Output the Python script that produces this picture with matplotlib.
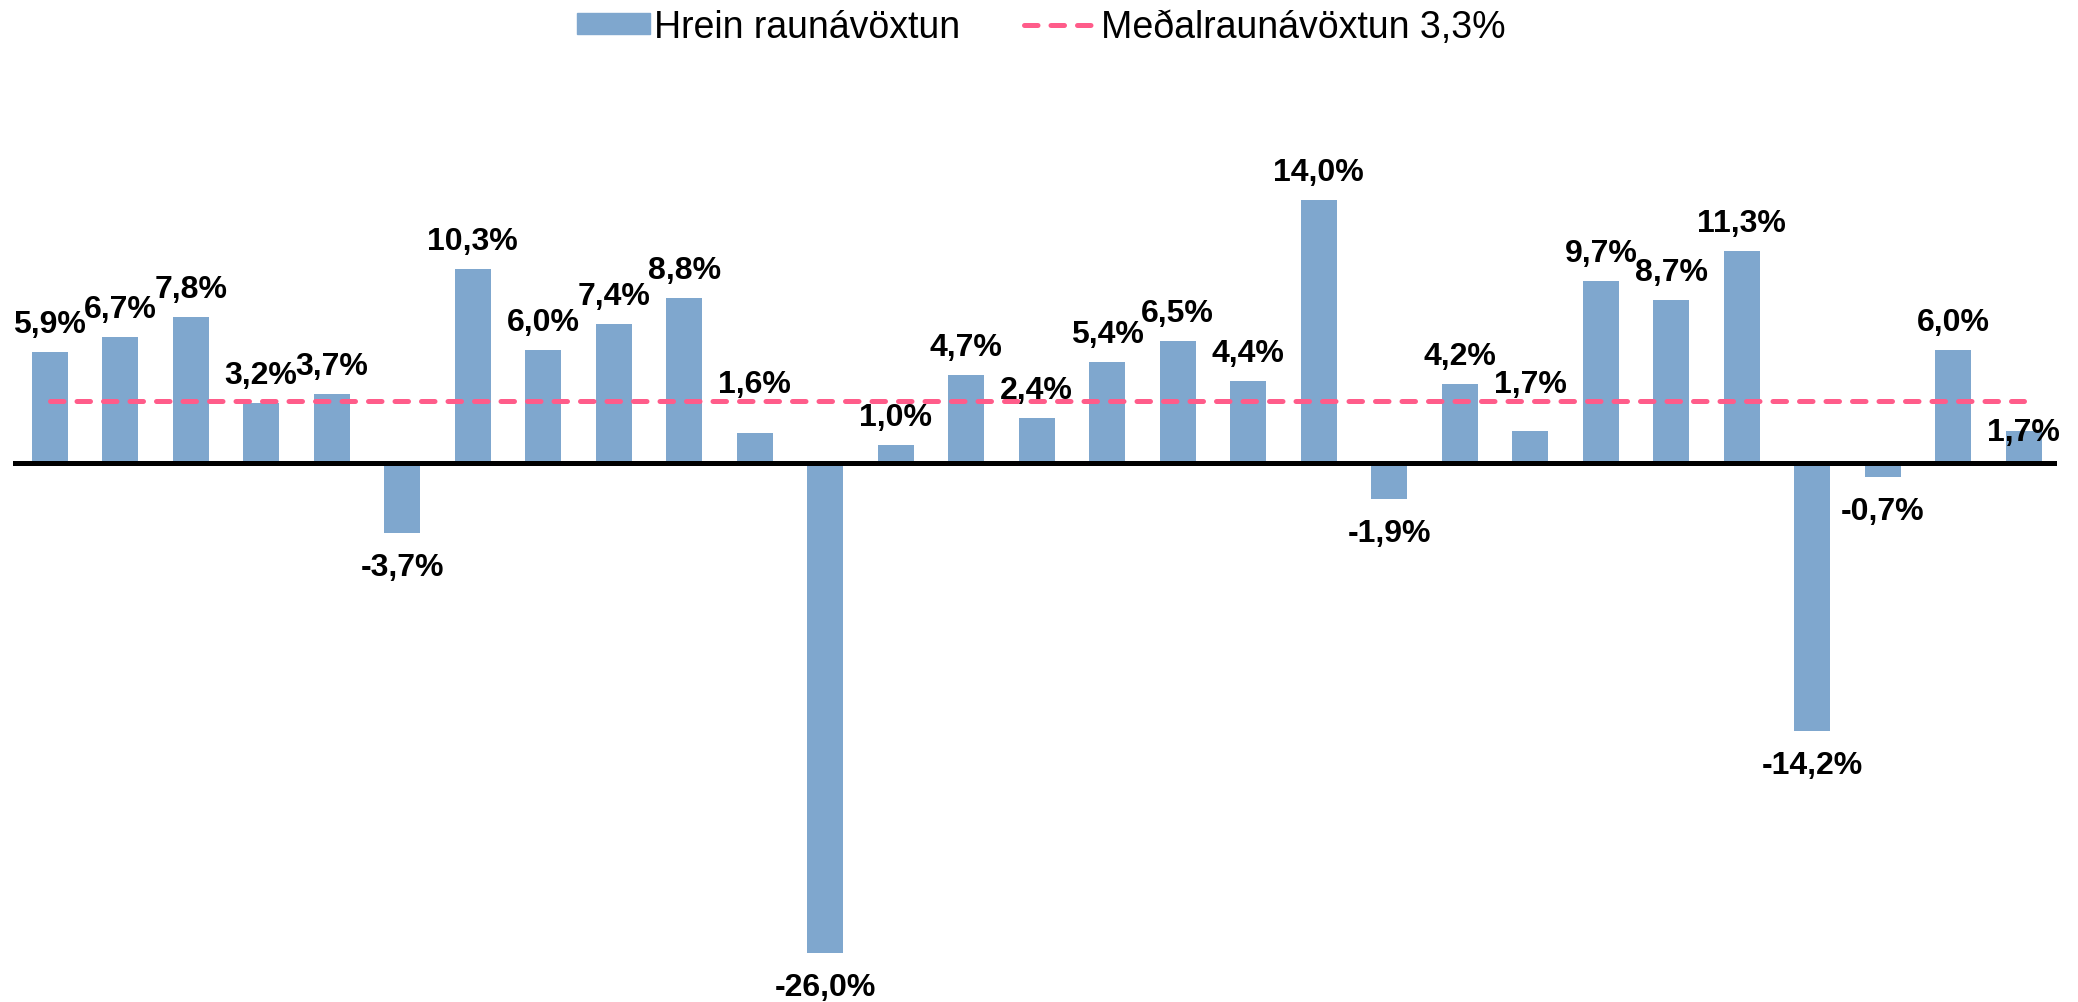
import numpy as np
import matplotlib.pyplot as plt
from matplotlib.lines import Line2D
from matplotlib.patches import Patch

plt.rcParams['font.family'] = ['Liberation Sans', 'DejaVu Sans']

# Hrein raunávöxtun (%) - eitt gildi á hvert ár
raunavoxtun = [5.9, 6.7, 7.8, 3.2, 3.7, -3.7, 10.3, 6.0, 7.4, 8.8, 1.6, -26.0,
               1.0, 4.7, 2.4, 5.4, 6.5, 4.4, 14.0, -1.9, 4.2, 1.7, 9.7, 8.7,
               11.3, -14.2, -0.7, 6.0, 1.7]
medaltal = 3.3

bar_litur = '#7fa7ce'
lina_litur = '#ff5c8a'

fig = plt.figure(figsize=(20.78, 10.03), dpi=100)
ax = fig.add_axes([13/2078, 0.013, (2057-13)/2078, 0.907])

x = np.arange(len(raunavoxtun))
ax.bar(x, raunavoxtun, width=0.51, color=bar_litur, zorder=2)
ax.plot([x[0], x[-1]], [medaltal, medaltal], color=lina_litur, lw=3.6,
        dashes=(2.7, 2.6), dash_capstyle='round', zorder=3)
ax.axhline(0, color='black', lw=3.6, zorder=4)

# sumir merkimiðar voru færðir til í upprunalegu myndinni
hlidrun = {10: 21, 21: 19, 28: -29}

for i, v in enumerate(raunavoxtun):
    txt = f"{v:.1f}%".replace('.', ',')
    if v >= 0:
        dy = 28 + hlidrun.get(i, 0)
    else:
        dy = -34
    ax.annotate(txt, (x[i], v), xytext=(0, dy), textcoords='offset pixels',
                ha='center', va='center', fontsize=23, fontweight='bold',
                zorder=5)

ax.set_xlim(-0.52, 28.47)
ax.set_ylim(-27.9, 20.4)
ax.axis('off')

handles = [Patch(color=bar_litur),
           Line2D([0], [0], color=lina_litur, lw=3.6, dashes=(2.7, 2.6),
                  dash_capstyle='round')]
fig.legend(handles, ['Hrein raunávöxtun', 'Meðalraunávöxtun 3,3%'],
           loc='center', bbox_to_anchor=(0.501, 0.972), ncol=2, frameon=False,
           fontsize=27, handlelength=1.95, handleheight=0.5,
           handletextpad=0.1, columnspacing=1.7)

fig.savefig('out.png', dpi=100)
